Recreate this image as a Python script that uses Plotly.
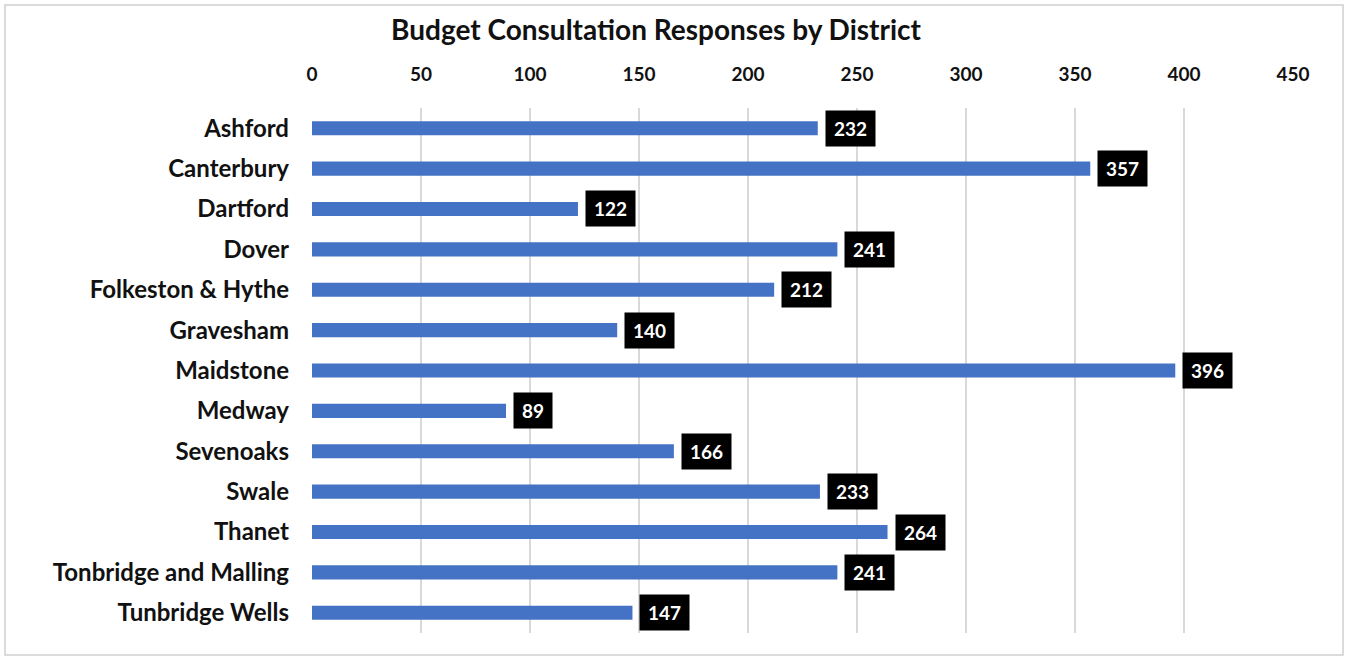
import plotly.graph_objects as go

districts = ["Ashford", "Canterbury", "Dartford", "Dover", "Folkeston & Hythe", "Gravesham",
             "Maidstone", "Medway", "Sevenoaks", "Swale", "Thanet", "Tonbridge and Malling",
             "Tunbridge Wells"]
responses = [232, 357, 122, 241, 212, 140, 396, 89, 166, 233, 264, 241, 147]
tick_vals = [0, 50, 100, 150, 200, 250, 300, 350, 400, 450]
tick_text = [f"<b>{t}</b>" for t in tick_vals]

FONT = "Lato"

fig = go.Figure()
fig.add_trace(go.Bar(
    x=responses, y=districts, orientation="h",
    marker=dict(color="#4472C4", line=dict(width=0)),
    width=0.35, hoverinfo="x+y",
))

for d, v in zip(districts, responses):
    fig.add_annotation(
        x=v, y=d, xref="x", yref="y", text=f"<b>{v}</b>", showarrow=False,
        xanchor="left", xshift=7, bgcolor="black", borderpad=8, height=19,
        font=dict(family=FONT, size=19, color="white"),
    )

W, H = 1352, 661
L, R, T, B = 312, 59, 108, 28
pw, ph = W - L - R, H - T - B

# outer border
fig.add_shape(type="rect", xref="paper", yref="paper",
              x0=(5 - L) / pw, x1=(1343 - L) / pw,
              y0=(H - B - 655) / ph, y1=(H - B - 5) / ph,
              line=dict(color="#d0d0d0", width=1.5), fillcolor="rgba(0,0,0,0)", layer="below")

fig.update_layout(
    width=W, height=H,
    margin=dict(l=L, r=R, t=T, b=B),
    paper_bgcolor="white", plot_bgcolor="white",
    showlegend=False,
    title=dict(text="<b>Budget Consultation Responses by District</b>",
               x=656 / W, xanchor="center", xref="container",
               y=1 - 30 / H, yanchor="middle", yref="container",
               font=dict(family=FONT, size=28, color="#111111")),
    xaxis=dict(side="top", range=[0, 450], tickvals=tick_vals, ticktext=tick_text,
               showgrid=True, gridcolor="#d9d9d9", gridwidth=1.5,
               zeroline=False, showline=False, ticks="",
               ticklabelstandoff=22,
               tickfont=dict(family=FONT, size=19, color="#111111")),
    yaxis=dict(autorange="reversed", showgrid=False, zeroline=False, showline=False,
               ticks="", ticklabelstandoff=22,
               tickfont=dict(family=FONT, size=24, color="#111111"),
               tickprefix="<b>", ticksuffix="</b>"),
    bargap=0.65,
)

fig.write_html("out.html", config={"displayModeBar": False},
               post_script="document.body.style.margin='0';")
